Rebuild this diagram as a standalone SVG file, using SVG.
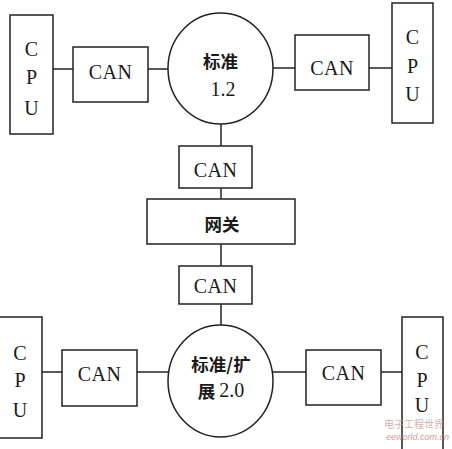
<svg xmlns="http://www.w3.org/2000/svg" width="452" height="449" viewBox="0 0 452 449">
<style>
.b{fill:#fff;stroke:#222;stroke-width:1.5}
.l{stroke:#222;stroke-width:1.5;fill:none}
.t{font-family:"Liberation Serif",serif;font-size:20px;fill:#1a1a1a;text-anchor:middle;dominant-baseline:central}
.c{font-family:"Noto Sans CJK SC",sans-serif;font-weight:bold;font-size:17.5px;fill:#1a1a1a;text-anchor:middle;dominant-baseline:central}
.w{font-family:"Noto Sans CJK SC",sans-serif;font-size:10px;fill:#c9a0a0;opacity:0.8}
</style>
<rect width="452" height="449" fill="#fff"/>
<g id="connectors">
<line class="l" x1="53" y1="69" x2="73" y2="69"/>
<line class="l" x1="148" y1="69" x2="168" y2="69"/>
<line class="l" x1="273" y1="68" x2="295" y2="68"/>
<line class="l" x1="369" y1="68" x2="392" y2="68"/>
<line class="l" x1="221" y1="124" x2="221" y2="146"/>
<line class="l" x1="221" y1="188" x2="221" y2="199"/>
<line class="l" x1="221" y1="244" x2="221" y2="266"/>
<line class="l" x1="221" y1="304" x2="221" y2="325"/>
<line class="l" x1="42" y1="372" x2="62" y2="372"/>
<line class="l" x1="137" y1="372" x2="168" y2="372"/>
<line class="l" x1="273" y1="372" x2="306" y2="372"/>
<line class="l" x1="381" y1="372" x2="402" y2="372"/>
</g>
<g id="cpu-tl"><rect class="b" x="10" y="15" width="43" height="119"/>
<text class="t" x="31.5" y="49">C</text><text class="t" x="31.5" y="77">P</text><text class="t" x="31.5" y="108">U</text></g>
<g id="can-tl"><rect class="b" x="73" y="47" width="75" height="55"/><text class="t" x="110.5" y="72" letter-spacing="0.5">CAN</text></g>
<g id="bus-top"><ellipse class="b" cx="220.5" cy="68.5" rx="52.5" ry="55.5"/>
<text class="c" x="220.5" y="60">标准</text><text class="t" x="223" y="89">1.2</text></g>
<g id="can-tr"><rect class="b" x="295" y="35" width="74" height="55"/><text class="t" x="332" y="68" letter-spacing="0.5">CAN</text></g>
<g id="cpu-tr"><rect class="b" x="392" y="3" width="41" height="120"/>
<text class="t" x="412.5" y="37">C</text><text class="t" x="412.5" y="66">P</text><text class="t" x="412.5" y="94">U</text></g>
<g id="can-m1"><rect class="b" x="179" y="146" width="73" height="42"/><text class="t" x="215.5" y="170" letter-spacing="0.5">CAN</text></g>
<g id="gateway"><rect class="b" x="147" y="199" width="148" height="45"/><text class="c" x="222" y="223">网关</text></g>
<g id="can-m2"><rect class="b" x="179" y="266" width="73" height="38"/><text class="t" x="215.5" y="286" letter-spacing="0.5">CAN</text></g>
<g id="bus-bottom"><ellipse class="b" cx="220.5" cy="381" rx="52.5" ry="56"/>
<text class="c" x="221" y="363">标准/扩</text><text class="c" x="221" y="390">展 <tspan font-family="Liberation Serif" font-weight="normal" font-size="20">2.0</tspan></text></g>
<g id="cpu-bl"><rect class="b" x="-1" y="317" width="43" height="121"/>
<text class="t" x="20" y="353">C</text><text class="t" x="20" y="380">P</text><text class="t" x="20" y="410">U</text></g>
<g id="can-bl"><rect class="b" x="62" y="350" width="75" height="56"/><text class="t" x="99.5" y="374" letter-spacing="0.5">CAN</text></g>
<g id="can-br"><rect class="b" x="306" y="350" width="75" height="55"/><text class="t" x="343.5" y="373" letter-spacing="0.5">CAN</text></g>
<g id="cpu-br"><rect class="b" x="402" y="317" width="41" height="135"/>
<text class="t" x="422" y="352">C</text><text class="t" x="422" y="380">P</text><text class="t" x="422" y="405">U</text></g>
<g id="watermark"><text class="w" x="384" y="428">电子工程世界</text><text x="386" y="440" font-family="Liberation Sans,sans-serif" font-size="9" font-style="italic" fill="#d08080" opacity="0.8">eeworld.com.cn</text></g>
</svg>
